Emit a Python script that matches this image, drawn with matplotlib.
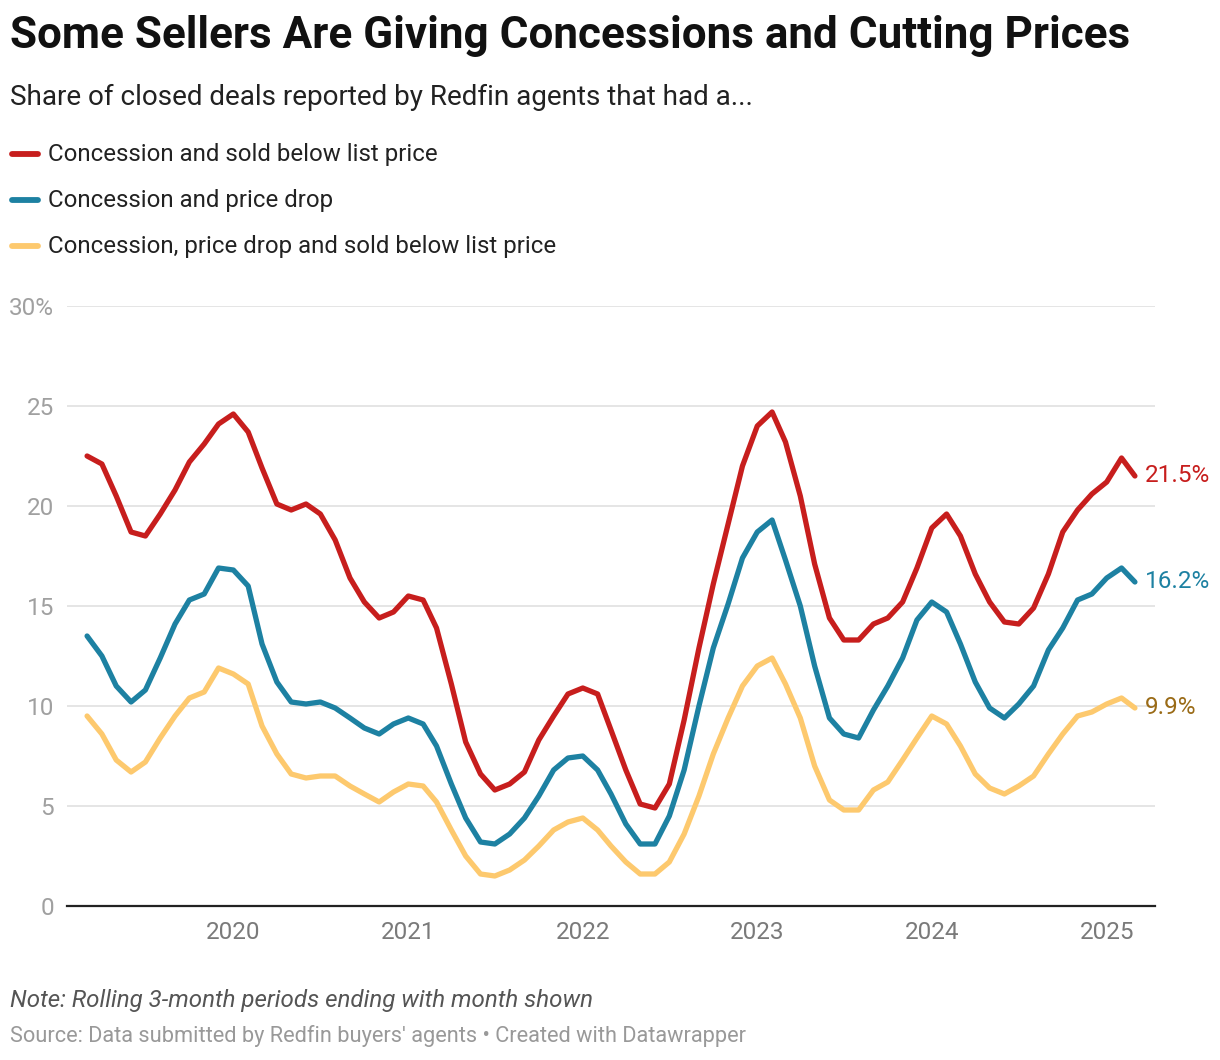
import numpy as np
import pandas as pd
import matplotlib
matplotlib.use("Agg")
import matplotlib.pyplot as plt
import matplotlib.dates as mdates

plt.rcParams['font.family'] = ['Roboto', 'DejaVu Sans']

# monthly, rolling 3-month periods ending Mar 2019 .. Mar 2025
months = pd.date_range('2019-03-01', periods=73, freq='MS')

sold_below_list = [22.5, 22.1, 20.5, 18.7, 18.5, 19.6, 20.8, 22.2, 23.1, 24.1,
                   24.6, 23.7, 21.9, 20.1, 19.8, 20.1, 19.6, 18.3, 16.4, 15.2,
                   14.4, 14.7, 15.5, 15.3, 13.9, 11.1, 8.2, 6.6, 5.8, 6.1,
                   6.7, 8.3, 9.5, 10.6, 10.9, 10.6, 8.8, 6.8, 5.1, 4.9,
                   6.1, 9.3, 12.9, 16.1, 19.1, 22.0, 24.0, 24.7, 23.2, 20.5,
                   17.1, 14.4, 13.3, 13.3, 14.1, 14.4, 15.2, 16.9, 18.9, 19.6,
                   18.5, 16.6, 15.2, 14.2, 14.1, 14.9, 16.6, 18.7, 19.8, 20.6,
                   21.2, 22.4, 21.5]

price_drop = [13.5, 12.5, 11.0, 10.2, 10.8, 12.4, 14.1, 15.3, 15.6, 16.9,
              16.8, 16.0, 13.1, 11.2, 10.2, 10.1, 10.2, 9.9, 9.4, 8.9,
              8.6, 9.1, 9.4, 9.1, 8.0, 6.1, 4.4, 3.2, 3.1, 3.6,
              4.4, 5.5, 6.8, 7.4, 7.5, 6.8, 5.6, 4.1, 3.1, 3.1,
              4.5, 6.8, 10.0, 12.9, 15.1, 17.4, 18.7, 19.3, 17.3, 15.0,
              12.0, 9.4, 8.6, 8.4, 9.8, 11.0, 12.4, 14.3, 15.2, 14.7,
              13.1, 11.2, 9.9, 9.4, 10.1, 11.0, 12.8, 13.9, 15.3, 15.6,
              16.4, 16.9, 16.2]

drop_and_below = [9.5, 8.6, 7.3, 6.7, 7.2, 8.4, 9.5, 10.4, 10.7, 11.9,
                  11.6, 11.1, 9.0, 7.6, 6.6, 6.4, 6.5, 6.5, 6.0, 5.6,
                  5.2, 5.7, 6.1, 6.0, 5.2, 3.8, 2.5, 1.6, 1.5, 1.8,
                  2.3, 3.0, 3.8, 4.2, 4.4, 3.8, 3.0, 2.2, 1.6, 1.6,
                  2.2, 3.6, 5.5, 7.6, 9.4, 11.0, 12.0, 12.4, 11.1, 9.4,
                  7.0, 5.3, 4.8, 4.8, 5.8, 6.2, 7.3, 8.4, 9.5, 9.1,
                  8.0, 6.6, 5.9, 5.6, 6.0, 6.5, 7.6, 8.6, 9.5, 9.7,
                  10.1, 10.4, 9.9]

labels = ["Concession and sold below list price",
          "Concession and price drop",
          "Concession, price drop and sold below list price"]
colors = ["#c71e1d", "#1d81a2", "#fdc96e"]
end_colors = ["#c71e1d", "#1d81a2", "#9a6b17"]
series = [sold_below_list, price_drop, drop_and_below]

W, H = 1220, 1060
fig = plt.figure(figsize=(W / 100, H / 100), dpi=100)

def fx(px):
    return px / W

def fy(py):
    return 1 - py / H

ax = fig.add_axes([fx(67), fy(906), fx(1155) - fx(67), fy(306) - fy(906)])

for vals, c in zip(series, colors):
    ax.plot(months, vals, color=c, lw=3.8, solid_joinstyle='round',
            solid_capstyle='round', zorder=3)

pad = pd.Timedelta(days=42)
ax.set_xlim(months[0] - pad, months[-1] + pad)
ax.set_ylim(0, 30)

ax.set_yticks([0, 5, 10, 15, 20, 25, 30])
ax.set_yticklabels(["0", "5", "10", "15", "20", "25", "30%"])
ax.grid(axis='y', color='#e3e3e3', lw=1.3, zorder=0)
ax.tick_params(axis='y', length=0, pad=9.4, labelsize=17.5, labelcolor='#a0a0a0')

years = pd.date_range('2020-01-01', periods=6, freq='YS')
ax.set_xticks(years)
ax.xaxis.set_major_formatter(mdates.DateFormatter('%Y'))
ax.tick_params(axis='x', length=0, pad=11, labelsize=17.5, labelcolor='#7a7a7a')

for s in ['top', 'right', 'left']:
    ax.spines[s].set_visible(False)
ax.spines['bottom'].set_color('#222222')
ax.spines['bottom'].set_linewidth(1.6)
ax.spines['bottom'].set_zorder(4)

# end-of-line value labels
for vals, c in zip(series, end_colors):
    ax.annotate(f"{vals[-1]:.1f}%", xy=(months[-1], vals[-1]),
                xytext=(7, 0), textcoords='offset points',
                va='center', ha='left', fontsize=17.5, color=c)

# title block
fig.text(fx(10), fy(36), "Some Sellers Are Giving Concessions and Cutting Prices",
         fontsize=31.7, fontweight='bold', color='#111111', va='center', ha='left')
fig.text(fx(10), fy(97), "Share of closed deals reported by Redfin agents that had a...",
         fontsize=20.1, color='#222222', va='center', ha='left')

# legend
leg_y = [154, 200, 246]
for lab, c, y in zip(labels, colors, leg_y):
    fig.add_artist(plt.Line2D([fx(12), fx(38)], [fy(y), fy(y)], color=c, lw=4.2,
                              solid_capstyle='round'))
    fig.text(fx(48), fy(y), lab, fontsize=17.3, color='#222222', va='center', ha='left')

fig.text(fx(10), fy(1000), "Note: Rolling 3-month periods ending with month shown",
         fontsize=17.4, style='italic', color='#555555', va='center', ha='left')
fig.text(fx(10), fy(1036), "Source: Data submitted by Redfin buyers' agents \u2022 Created with Datawrapper",
         fontsize=15.7, color='#999999', va='center', ha='left')

fig.savefig("out.png", dpi=100, facecolor='white')
